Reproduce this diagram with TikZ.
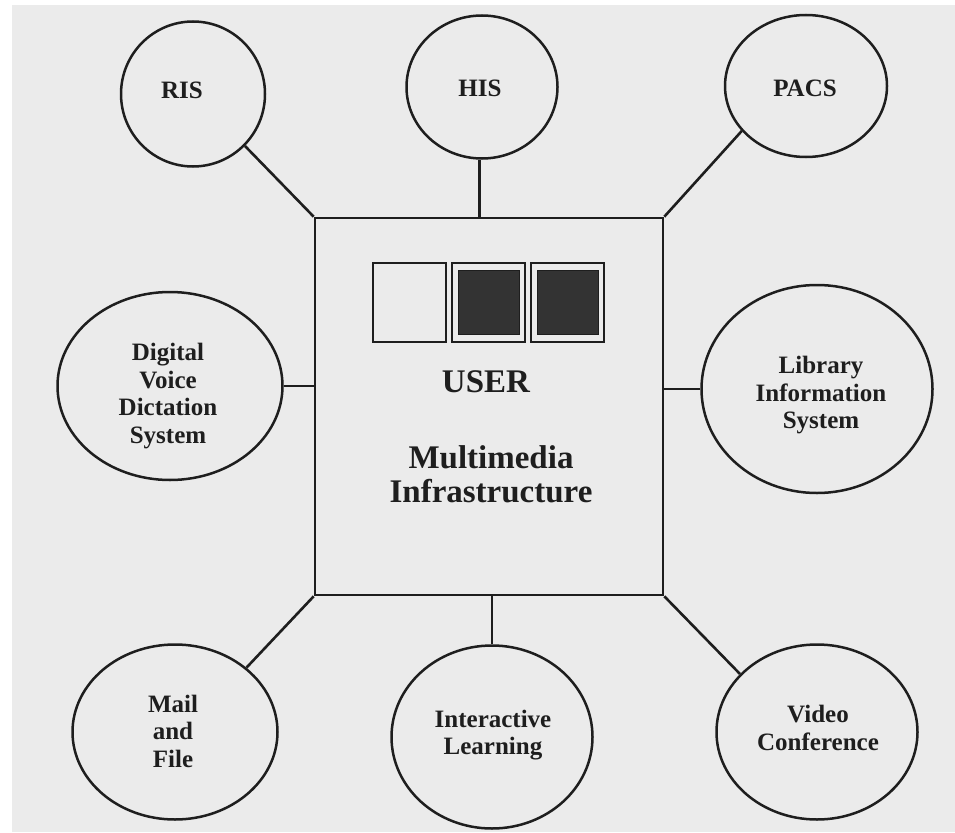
\documentclass[tikz,border=0pt]{standalone}
\usepackage{fontspec}
\setmainfont{Liberation Serif}
\usetikzlibrary{shapes.geometric}
\definecolor{paper}{HTML}{EBEBEB}
\definecolor{ink}{HTML}{1E1E1E}
\definecolor{stip}{HTML}{333333}
\tikzset{
  bubble/.style={draw=ink, line width=2.5pt, ellipse, inner sep=0pt},
  bubbletext/.style={align=center, inner sep=0pt, text=ink,
    font=\fontsize{25}{27.5}\selectfont\bfseries},
  link/.style={draw=ink, line width=2.6pt},
  hub/.style={draw=ink, line width=2.6pt, rectangle, inner sep=0pt},
  screen/.style={draw=ink, line width=1.8pt, rectangle, inner sep=0pt, minimum width=73pt, minimum height=79pt, fill=paper},
  dark/.style={rectangle, inner sep=0pt, minimum width=61pt, minimum height=64pt, fill=stip, draw=ink, line width=1pt},
  hubtext/.style={align=center, text=ink, inner sep=0pt}
}
\begin{document}
\begin{tikzpicture}[x=1pt,y=-1pt]
\useasboundingbox (0,0) rectangle (955,832);
\fill[white] (0,0) rectangle (955,832);
\fill[paper] (12,5) rectangle (955,832);

% central hub
\node[hub, minimum width=348pt, minimum height=377pt] (U) at (489,406.5) {};
\node[screen] (b1) at (409.5,302.5) {};
\node[screen] (b2) at (488.5,302.5) {};
\node[screen] (b3) at (567.5,302.5) {};
\node[dark] (d2) at (b2) {};
\node[dark] (d3) at (b3) {};
\node[hubtext, font=\fontsize{33}{36}\selectfont\bfseries] (user) at (486,382) {USER};
\node[hubtext, font=\fontsize{33}{34}\selectfont\bfseries] (mm) at (491,474) {Multimedia\\Infrastructure};

% bubbles
\node[bubble, minimum width=144pt, minimum height=145pt] (RIS) at (193,94) {};
\node[bubble, minimum width=151pt, minimum height=143pt] (HIS) at (482,87) {};
\node[bubble, minimum width=162pt, minimum height=142pt] (PACS) at (806,86) {};
\node[bubble, minimum width=225pt, minimum height=188pt] (DV) at (170,386) {};
\node[bubble, minimum width=231pt, minimum height=208pt] (LIS) at (817,389) {};
\node[bubble, minimum width=205pt, minimum height=175pt] (MF) at (175,732) {};
\node[bubble, minimum width=201pt, minimum height=183pt] (IL) at (492,737) {};
\node[bubble, minimum width=201pt, minimum height=175pt] (VC) at (817,732) {};

% bubble labels
\node[bubbletext] (RISt) at (182,90) {RIS};
\node[bubbletext] (HISt) at (480,88) {HIS};
\node[bubbletext] (PACSt) at (805,88) {PACS};
\node[bubbletext] (DVt) at (168,396) {Digital\\Voice\\Dictation\\System};
\node[bubbletext] (LISt) at (821,395.5) {Library\\Information\\System};
\node[bubbletext] (MFt) at (173,731) {Mail\\and\\File};
\node[bubbletext] (ILt) at (493,735) {Interactive\\Learning};
\node[bubbletext] (VCt) at (818,728) {Video\\Conference};

% connectors
\draw[link] (RIS.315) -- (U.north west);
\draw[link] (HIS.268) -- (HIS.268 |- U.north);
\draw[link] (PACS.215) -- (U.north east);
\draw[link] (DV.east) -- (DV.east -| U.west);
\draw[link] (LIS.west) -- (LIS.west -| U.east);
\draw[link] (MF.42) -- (U.south west);
\draw[link] (IL.north) -- (IL.north |- U.south);
\draw[link] (VC.143) -- (U.south east);
\end{tikzpicture}
\end{document}
